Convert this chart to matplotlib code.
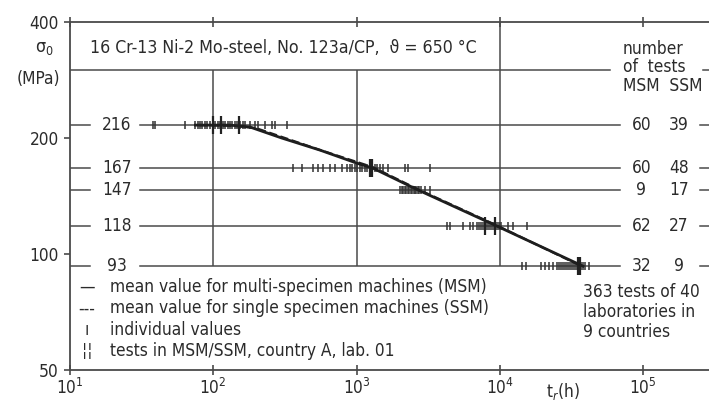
import numpy as np
import matplotlib.pyplot as plt
import matplotlib.transforms as mtransforms

plt.rcParams['font.family'] = ['DejaVu Sans']
plt.rcParams['font.stretch'] = 'condensed'
plt.rcParams['mathtext.fontset'] = 'custom'
plt.rcParams['mathtext.rm'] = 'DejaVu Sans:stretch=condensed'

INK = '#2b2b2b'
GRID = '#4a4a4a'
FS = 12.4

# stress levels (MPa) and number of tests per level
levels = [216, 167, 147, 118, 93]
n_msm = [60, 60, 9, 62, 32]
n_ssm = [39, 48, 17, 27, 9]

# individual rupture times (h) per stress level
indiv = {
    216: [38, 39, 63, 74, 78, 81, 84, 87, 91, 95, 99, 103, 107, 111, 116, 121, 126,
          131, 136, 142, 147, 153, 160, 166, 180, 195, 205, 230, 257, 270, 327],
    167: [360, 416, 496, 538, 583, 652, 706, 791, 857, 893, 929, 968, 1007, 1049, 1091,
          1136, 1183, 1232, 1281, 1334, 1388, 1450, 1528, 1656, 2177, 2285, 3255],
    147: [2010, 2060, 2109, 2160, 2213, 2267, 2322, 2378, 2436, 2496, 2556, 2618,
          2682, 2747, 2813, 3001, 3251],
    118: [4274, 4485, 5525, 6184, 6490, 6924, 7150, 7386, 7630, 7879, 8140, 8405,
          8680, 8966, 9260, 9565, 9880, 10203, 11404, 12343, 15453],
    93: [14257, 15207, 19364, 20650, 22021, 23484, 25043, 25860, 26706, 27580, 28479,
         29410, 30370, 31360, 32386, 33440, 34537, 35660, 36830, 38030, 39276, 41883],
}

# tests of country A, lab. 01 (h)
lab01_t = [100, 113, 150, 1240, 1290, 7880, 9300, 35000, 36500]
lab01_s = [216, 216, 216, 167, 167, 118, 118, 93, 93]

# mean curves
msm_t = [75, 130, 180, 300, 556, 1007, 1300, 2640, 9600, 38000]
msm_s = [216, 216, 213.6, 200, 186, 172, 167, 147, 118, 93]
ssm_t = [80, 140, 200, 560, 1300, 2600, 9800, 37000]
ssm_s = [216, 215, 212, 186, 168, 148, 118, 93]

fig = plt.figure(figsize=(7.09, 4.03), dpi=100)
ax = fig.add_axes([70 / 709, 33 / 403, 639 / 709, 348 / 403])
ax.set_xscale('log')
ax.set_yscale('log')
ax.set_xlim(10, 10 ** (1 + 639 / 143.3))
ax.set_ylim(50, 400)

for s in ['left', 'top', 'bottom']:
    ax.spines[s].set_color(GRID)
    ax.spines[s].set_linewidth(1.3)
ax.spines['right'].set_visible(False)

# y ticks
ax.set_yticks([50, 100, 200, 400])
ax.set_yticklabels(['50', '100', '200', '400'])
ax.yaxis.set_minor_locator(plt.NullLocator())
ax.tick_params(axis='y', direction='out', length=4, width=1.2, color=GRID,
               labelsize=FS, labelcolor=INK, pad=4)

# x ticks
ax.set_xticks([10, 100, 1000, 1e4, 1e5])
ax.set_xticklabels(['$10^1$', '$10^2$', '$10^3$', '$10^4$', '$10^5$'])
ax.xaxis.set_minor_locator(plt.NullLocator())
ax.tick_params(axis='x', direction='inout', length=7, width=1.2, color=GRID,
               labelsize=FS, labelcolor=INK, top=True, pad=2)

# grid frame
ax.axhline(300, 0, 0.845, color=GRID, lw=1.1)
ax.axhline(300, 0.99, 1, color=GRID, lw=1.1)
ax.vlines([100, 1000], 93, 300, color=GRID, lw=1.1)
ax.vlines([1e4], 93, 400, color=GRID, lw=1.1)

blend = mtransforms.blended_transform_factory(ax.transAxes, ax.transData)
for lev, m, n in zip(levels, n_msm, n_ssm):
    ax.axhline(lev, 0, 0.031, color=GRID, lw=1.1)
    ax.axhline(lev, 0.1095, 0.861, color=GRID, lw=1.1)
    ax.axhline(lev, 0.986, 1, color=GRID, lw=1.1)
    ax.text(0.073, lev, str(lev), transform=blend, ha='center', va='center',
            fontsize=FS, color=INK)
    ax.text(0.894, lev, str(m), transform=blend, ha='center', va='center',
            fontsize=FS, color=INK)
    ax.text(0.953, lev, str(n), transform=blend, ha='center', va='center',
            fontsize=FS, color=INK)

# individual values
for lev in levels:
    t = indiv[lev]
    ax.plot(t, [lev] * len(t), ls='none', marker='|', ms=6, mew=1.3,
            color='#333333', alpha=0.85)
ax.plot(lab01_t, lab01_s, ls='none', marker='|', ms=13, mew=1.6, color='#222222')

# mean curves
ax.plot(ssm_t, ssm_s, ls='--', lw=1.6, color='#222222')
ax.plot(msm_t, msm_s, ls='-', lw=2.0, color='#1e1e1e')

# texts
ax.text(20 / 639, 1 - 26 / 348, '16 Cr-13 Ni-2 Mo-steel, No. 123a/CP,  ϑ = 650 °C',
        transform=ax.transAxes, ha='left', va='center', fontsize=FS + 0.3, color=INK)
ax.text(553 / 639, 1 - 27 / 348, 'number', transform=ax.transAxes, ha='left',
        va='center', fontsize=FS, color=INK)
ax.text(553 / 639, 1 - 45 / 348, 'of  tests', transform=ax.transAxes, ha='left',
        va='center', fontsize=FS, color=INK)
ax.text(553 / 639, 1 - 64 / 348, 'MSM  SSM', transform=ax.transAxes, ha='left',
        va='center', fontsize=FS, color=INK)

for i, line in enumerate(['363 tests of 40', 'laboratories in', '9 countries']):
    ax.text(513 / 639, (370 - 292 - 20 * i) / 348, line, transform=ax.transAxes,
            ha='left', va='center', fontsize=FS, color=INK)

legend_rows = [
    ('—', 'mean value for multi-specimen machines (MSM)'),
    ('---', 'mean value for single specimen machines (SSM)'),
    ('ı', 'individual values'),
    ('¦¦', 'tests in MSM/SSM, country A, lab. 01'),
]
for i, (sym, label) in enumerate(legend_rows):
    yy = (370 - 287 - 21.3 * i) / 348
    ax.text(17 / 639, yy, sym, transform=ax.transAxes, ha='center', va='center',
            fontsize=FS, color=INK)
    ax.text(40 / 639, yy, label, transform=ax.transAxes, ha='left', va='center',
            fontsize=FS, color=INK)

# axis titles
fig.text(44 / 709, 1 - 48 / 403, 'σ$_0$', ha='center', va='center', fontsize=FS + 0.5,
         color=INK)
fig.text(38 / 709, 1 - 79 / 403, '(MPa)', ha='center', va='center', fontsize=FS, color=INK)
fig.text(563 / 709, 1 - 392 / 403, 't$_r$(h)', ha='center', va='center', fontsize=FS,
         color=INK)

fig.savefig('out.png', dpi=100)
plt.close(fig)
